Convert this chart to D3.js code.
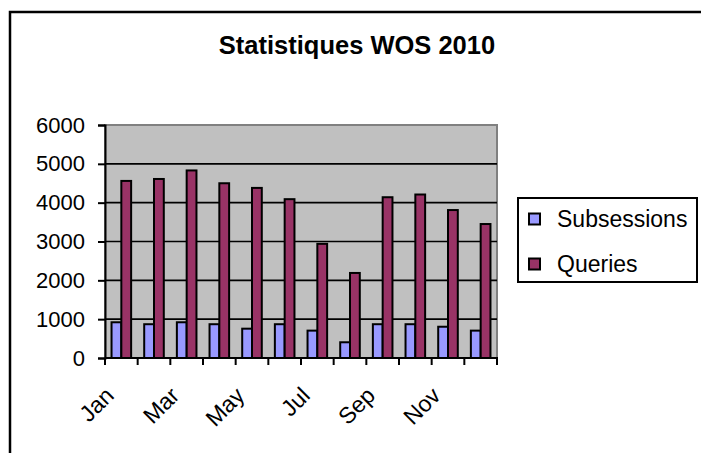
<!DOCTYPE html>
<html>
<head>
<meta charset="utf-8">
<script src="https://cdn.jsdelivr.net/npm/d3@7"></script>
<style>
  body { margin: 0; background: #fff; }
  svg text { font-family: "Liberation Sans", Arial, sans-serif; fill: #000; }
</style>
</head>
<body>
<div id="chart"></div>
<script>
var months = ["Jan", "Feb", "Mar", "Apr", "May", "Jun", "Jul", "Aug", "Sep", "Oct", "Nov", "Dec"];
var shownLabels = ["Jan", "Mar", "May", "Jul", "Sep", "Nov"];
var seriesNames = ["Subsessions", "Queries"];
var subsessions = [920, 870, 920, 870, 755, 870, 705, 405, 870, 870, 805, 705];
var queries = [4560, 4610, 4830, 4500, 4380, 4090, 2940, 2190, 4140, 4210, 3810, 3450];
var yTicks = [0, 1000, 2000, 3000, 4000, 5000, 6000];
var colors = ["#9999FF", "#993366"];

var width = 701,
  height = 453;
var plot = { left: 105, right: 497, top: 125, bottom: 358 };

var svg = d3
  .select("#chart")
  .append("svg")
  .attr("width", width)
  .attr("height", height);

// outer chart frame (runs past the right and bottom edges)
svg
  .append("rect")
  .attr("x", 10)
  .attr("y", 12)
  .attr("width", 800)
  .attr("height", 600)
  .attr("fill", "#fff")
  .attr("stroke", "#000")
  .attr("stroke-width", 2.5);

svg
  .append("text")
  .attr("x", 357)
  .attr("y", 54)
  .attr("text-anchor", "middle")
  .style("font-size", "25.5px")
  .style("font-weight", "bold")
  .text("Statistiques WOS 2010");

var x = d3
  .scaleBand()
  .domain(months)
  .range([plot.left, plot.right])
  .padding(0);

var y = d3
  .scaleLinear()
  .domain([0, 6000])
  .range([plot.bottom, plot.top]);

var barW = x.bandwidth() * 0.3;
var x1 = d3
  .scaleBand()
  .domain(seriesNames)
  .range([0, barW * 2]);

// plot area
svg
  .append("rect")
  .attr("x", plot.left)
  .attr("y", plot.top)
  .attr("width", plot.right - plot.left)
  .attr("height", plot.bottom - plot.top)
  .attr("fill", "#C0C0C0")
  .attr("stroke", "#808080")
  .attr("stroke-width", 2);

// gridlines
svg
  .append("g")
  .selectAll("line")
  .data(yTicks.filter(d => d > 0 && d < 6000))
  .enter()
  .append("line")
  .attr("x1", plot.left)
  .attr("x2", plot.right)
  .attr("y1", d => y(d))
  .attr("y2", d => y(d))
  .attr("stroke", "#000")
  .attr("stroke-width", 1.6);

// bars
var rows = months.map((m, i) => ({ month: m, values: [subsessions[i], queries[i]] }));
var groups = svg
  .append("g")
  .selectAll("g")
  .data(rows)
  .enter()
  .append("g")
  .attr("transform", d => "translate(" + (x(d.month) + x.bandwidth() / 2 - barW) + ",0)");

groups
  .selectAll("rect")
  .data(d => d.values.map((v, j) => ({ name: seriesNames[j], value: v, c: colors[j] })))
  .enter()
  .append("rect")
  .attr("x", d => x1(d.name))
  .attr("y", d => y(d.value))
  .attr("width", x1.bandwidth())
  .attr("height", d => y(0) - y(d.value))
  .attr("fill", d => d.c)
  .attr("stroke", "#000")
  .attr("stroke-width", 2);

// y axis
var yAxis = svg
  .append("g")
  .attr("transform", "translate(" + plot.left + ",0)")
  .call(d3.axisLeft(y).tickValues(yTicks).tickSize(7).tickPadding(13).tickFormat(d3.format("d")));
yAxis.select(".domain").attr("stroke", "#000").attr("stroke-width", 2);
yAxis.selectAll(".tick line").attr("stroke", "#000").attr("stroke-width", 2);
yAxis
  .selectAll(".tick text")
  .style("font-size", "22px")
  .style("font-family", "Liberation Sans, Arial, sans-serif")
  .attr("fill", "#000");

// x axis
var xAxis = svg
  .append("g")
  .attr("transform", "translate(0," + plot.bottom + ")");
xAxis
  .append("line")
  .attr("x1", plot.left)
  .attr("x2", plot.right + 1)
  .attr("stroke", "#000")
  .attr("stroke-width", 2);
xAxis
  .selectAll(".tick")
  .data(months.concat(["end"]))
  .enter()
  .append("line")
  .attr("x1", d => (d === "end" ? plot.right : x(d)))
  .attr("x2", d => (d === "end" ? plot.right : x(d)))
  .attr("y1", 0)
  .attr("y2", 7)
  .attr("stroke", "#000")
  .attr("stroke-width", 2);
xAxis
  .selectAll("text")
  .data(shownLabels)
  .enter()
  .append("text")
  .attr("transform", d => "translate(" + (x(d) + x.bandwidth() / 2 - 6) + ",39) rotate(-45)")
  .attr("text-anchor", "end")
  .style("font-size", "23px")
  .text(d => d);

// legend
var legend = svg.append("g");
legend
  .append("rect")
  .attr("x", 518)
  .attr("y", 198)
  .attr("width", 179)
  .attr("height", 84)
  .attr("fill", "#fff")
  .attr("stroke", "#000")
  .attr("stroke-width", 2);
var items = legend
  .selectAll("g")
  .data(seriesNames)
  .enter()
  .append("g")
  .attr("transform", (d, i) => "translate(0," + (219 + i * 45) + ")");
items
  .append("rect")
  .attr("x", 529)
  .attr("y", -5.5)
  .attr("width", 11)
  .attr("height", 11)
  .attr("fill", (d, i) => colors[i])
  .attr("stroke", "#000")
  .attr("stroke-width", 2);
items
  .append("text")
  .attr("x", 557)
  .attr("y", 8)
  .style("font-size", "23px")
  .text(d => d);
</script>
</body>
</html>
